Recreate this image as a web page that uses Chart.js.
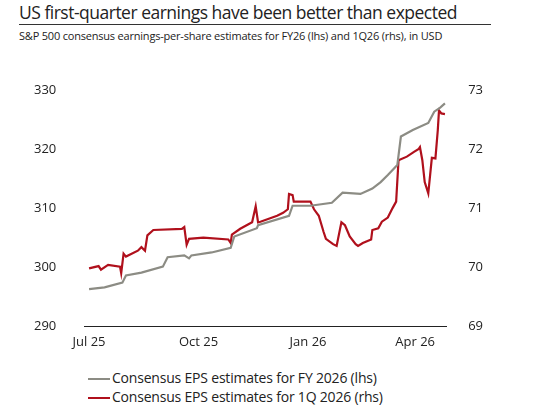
<!DOCTYPE html>
<html><head><meta charset="utf-8">
<script src="https://cdn.jsdelivr.net/npm/chart.js@4"></script>
<style>
body{margin:0;background:#fff;font-family:"Open Sans",sans-serif;}
#t{position:absolute;left:19px;top:0px;font-size:17.5px;color:#222;letter-spacing:-0.5px;white-space:nowrap}
#rule{position:absolute;left:19px;top:24px;width:472px;border-top:1px solid #333}
#s{position:absolute;left:19px;top:28px;font-size:11px;color:#222;letter-spacing:-0.2px;white-space:nowrap}
#c{position:absolute;left:0;top:62px}
.lg{position:absolute;left:88px;font-size:14px;color:#222;letter-spacing:-0.2px}
.lg span{display:inline-block;width:22px;height:0;border-top:2.5px solid;vertical-align:middle;margin-right:2px}
</style></head><body>
<div id="t">US first-quarter earnings have been better than expected</div>
<div id="rule"></div>
<div id="s">S&amp;P 500 consensus earnings-per-share estimates for FY26 (lhs) and 1Q26 (rhs), in USD</div>
<canvas id="c" width="551" height="300"></canvas>
<div class="lg" style="top:368px"><span style="border-color:#8c8c84"></span>Consensus EPS estimates for FY 2026 (lhs)</div>
<div class="lg" style="top:387px"><span style="border-color:#b0101c"></span>Consensus EPS estimates for 1Q 2026 (rhs)</div>
<script>
const tickDays=[0,92,184,274];
const tickLabels=["Jul 25","Oct 25","Jan 26","Apr 26"];
const fyDays=[0,13,28,31,44,62,66,80,84,86,103,119,122,141,142,168,171,186,204,213,228,238,245,251,259,262,272,285,290,295,299];
const fyVals=[296.3,296.6,297.4,298.6,299.1,300.1,301.7,302,301.5,302,302.5,303.3,305.2,306.6,307.1,308.7,310.4,310.4,310.9,312.6,312.4,313.3,314.4,315.6,317.3,322.1,323.2,324.4,326.3,327,327.7];
const q1Days=[0,8,10,16,26,27,29,31,41,44,47,49,54,78,80,82,84,96,117,119,120,127,137,140,142,144,158,163,167,168,171,172,186,189,193,197,199,205,208,212,215,219,224,226,230,237,238,243,246,251,255,258,260,267,273,277,278,280,282,285,288,291,293,294,296,299];
const q1Vals=[69.98,70.02,69.96,70.04,70.01,69.90,70.23,70.18,70.28,70.34,70.28,70.54,70.63,70.65,70.68,70.38,70.48,70.50,70.47,70.41,70.55,70.65,70.76,71.03,70.76,70.77,70.87,70.92,70.98,71.24,71.22,71.11,71.11,70.98,70.87,70.60,70.48,70.39,70.36,70.76,70.71,70.52,70.39,70.36,70.41,70.47,70.63,70.66,70.77,70.84,71.00,71.11,71.81,71.87,71.95,72.00,72.03,71.81,71.44,71.25,71.85,71.84,72.32,72.65,72.60,72.59];
const tickFont={family:"Open Sans",size:13};
new Chart(document.getElementById('c'),{
 type:'line',
 data:{datasets:[
  {data:fyDays.map((d,i)=>({x:d,y:fyVals[i]})),borderColor:'#8c8c84',borderWidth:2.2,pointRadius:0,yAxisID:'y',tension:0},
  {data:q1Days.map((d,i)=>({x:d,y:q1Vals[i]})),borderColor:'#b0101c',borderWidth:2.2,pointRadius:0,yAxisID:'y1',tension:0}
 ]},
 options:{responsive:false,animation:false,events:[],
  layout:{padding:{left:14,right:54,top:8,bottom:4}},
  plugins:{legend:{display:false},tooltip:{enabled:false}},
  scales:{
   x:{type:'linear',min:-4,max:300,
      afterBuildTicks:s=>{s.ticks=tickDays.map(v=>({value:v}));},
      ticks:{callback:(v)=>tickLabels[tickDays.indexOf(v)],color:'#222',font:tickFont,maxRotation:0,padding:8},
      grid:{display:false,drawTicks:false},border:{color:'#222',width:1}},
   y:{position:'left',min:290,max:330,ticks:{stepSize:10,color:'#222',font:tickFont,padding:20},grid:{display:false},border:{display:false}},
   y1:{position:'right',min:69,max:73,ticks:{stepSize:1,color:'#222',font:tickFont,padding:14},grid:{display:false},border:{display:false}}
  }}
});
</script>
</body></html>
